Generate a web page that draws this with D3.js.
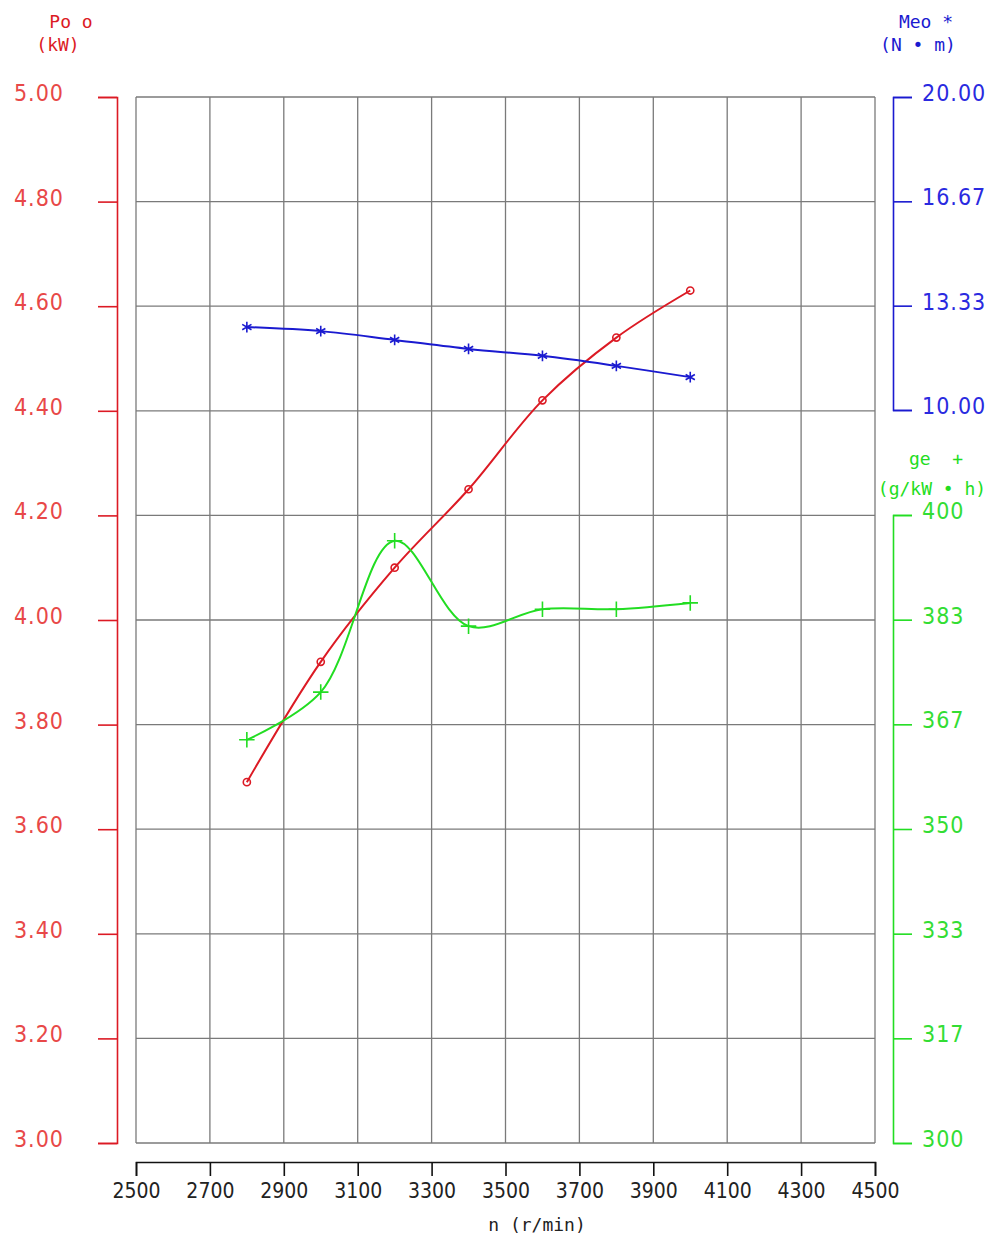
<!DOCTYPE html>
<html>
<head>
<meta charset="utf-8">
<script src="https://cdn.jsdelivr.net/npm/d3@7"></script>
<style>
  body { margin: 0; background: #fff; }
  text { font-family: "DejaVu Sans Condensed", "DejaVu Sans", sans-serif; }
  .ttl { font-family: "DejaVu Sans Mono", monospace; }
</style>
</head>
<body>
<svg id="chart" width="989" height="1242"></svg>
<script>
// speed points (r/min)
var speed = [2800, 3000, 3200, 3400, 3600, 3800, 4000];
// power Po (kW)
var power = [3.69, 3.92, 4.10, 4.25, 4.42, 4.54, 4.63];
// torque Meo (N·m)
var torque = [12.65, 12.52, 12.24, 11.95, 11.73, 11.41, 11.05];
// fuel consumption ge (g/kW·h)
var fuel = [364.2, 371.8, 395.9, 382.3, 385.0, 385.0, 386.0];

var xTicks = d3.range(2500, 4501, 200);
var powerTicks = d3.range(0, 11).map(function(i) { return 3 + i * 0.2; });
var torqueTicks = [10, 40 / 3, 50 / 3, 20];
var fuelTicks = d3.range(0, 7).map(function(i) { return 300 + i * 100 / 6; });

var RED = "#dc1a24", BLUE = "#1a1ad0", GREEN = "#22dd22";

var svg = d3.select("#chart");

var x = d3.scaleLinear().domain([2500, 4500]).range([136, 875]);
var yP = d3.scaleLinear().domain([3, 5]).range([1143, 97]);
var yM = d3.scaleLinear().domain([10, 20]).range([410, 97]);
var yG = d3.scaleLinear().domain([300, 400]).range([1143, 515]);

// grid
var grid = svg.append("g").attr("stroke", "#7a7a7a").attr("stroke-width", 1.3);
grid.selectAll(".vg").data(xTicks).enter().append("line")
  .attr("x1", function(d) { return x(d); }).attr("x2", function(d) { return x(d); })
  .attr("y1", yP(5)).attr("y2", yP(3));
grid.selectAll(".hg").data(powerTicks).enter().append("line")
  .attr("y1", function(d) { return yP(d); }).attr("y2", function(d) { return yP(d); })
  .attr("x1", x(2500)).attr("x2", x(4500));

function styleAxis(g, c, size) {
  g.selectAll("path, line").attr("stroke", c).attr("stroke-width", 1.6);
  g.selectAll("text").attr("fill", c).attr("font-size", size).attr("font-family", null)
    .attr("letter-spacing", 1);
}

// left power axis
var axP = svg.append("g").attr("transform", "translate(117,0)")
  .call(d3.axisLeft(yP).tickValues(powerTicks).tickFormat(d3.format(".2f"))
    .tickSize(19).tickPadding(34));
styleAxis(axP, RED, 23);
axP.selectAll("text").attr("dy", "0.15em").attr("fill", "#e84848");

// right torque axis
var axM = svg.append("g").attr("transform", "translate(893,0)")
  .call(d3.axisRight(yM).tickValues(torqueTicks).tickFormat(d3.format(".2f"))
    .tickSize(19).tickPadding(10));
styleAxis(axM, BLUE, 23);
axM.selectAll("text").attr("dy", "0.15em").attr("fill", "#2a2ae0");

// right fuel axis
var axG = svg.append("g").attr("transform", "translate(893,0)")
  .call(d3.axisRight(yG).tickValues(fuelTicks).tickFormat(d3.format(".0f"))
    .tickSize(19).tickPadding(10));
styleAxis(axG, GREEN, 23);
axG.selectAll("text").attr("dy", "0.15em").attr("fill", "#33dd33");

// bottom speed axis
var axX = svg.append("g").attr("transform", "translate(0,1162)")
  .call(d3.axisBottom(x).tickValues(xTicks).tickFormat(d3.format("d"))
    .tickSize(14).tickSizeOuter(14).tickPadding(7));
styleAxis(axX, "#111", 21);
axX.selectAll("text").attr("fill", "#222").attr("letter-spacing", 0);

// axis titles
function title(t, xx, yy, c) {
  svg.append("text").attr("class", "ttl").attr("x", xx).attr("y", yy)
    .attr("text-anchor", "middle").attr("fill", c).attr("font-size", 18)
    .attr("xml:space", "preserve").style("white-space", "pre").text(t);
}
title("Po o", 71, 28, RED);
title("(kW)", 58, 51, RED);
title("Meo *", 926, 28, BLUE);
title("(N • m)", 918, 51, BLUE);
title("ge  +", 936, 465, GREEN);
title("(g/kW • h)", 932, 495, GREEN);
title("n (r/min)", 537, 1231, "#222");

// series
function series(vals, yScale, color, curve, symbol) {
  var pts = speed.map(function(s, i) { return [x(s), yScale(vals[i])]; });
  svg.append("path").attr("d", d3.line().curve(curve)(pts))
    .attr("fill", "none").attr("stroke", color).attr("stroke-width", 2);
  svg.selectAll(null).data(pts).enter().append("path")
    .attr("transform", function(d) { return "translate(" + d[0] + "," + d[1] + ")"; })
    .attr("d", d3.symbol().type(symbol).size(symbol === d3.symbolCircle ? 40 : 80))
    .attr("fill", "none").attr("stroke", color).attr("stroke-width", 1.6);
}
series(power, yP, RED, d3.curveCatmullRom, d3.symbolCircle);
series(torque, yM, BLUE, d3.curveCatmullRom, d3.symbolAsterisk);
series(fuel, yG, GREEN, d3.curveCatmullRom, d3.symbolPlus);
</script>
</body>
</html>
